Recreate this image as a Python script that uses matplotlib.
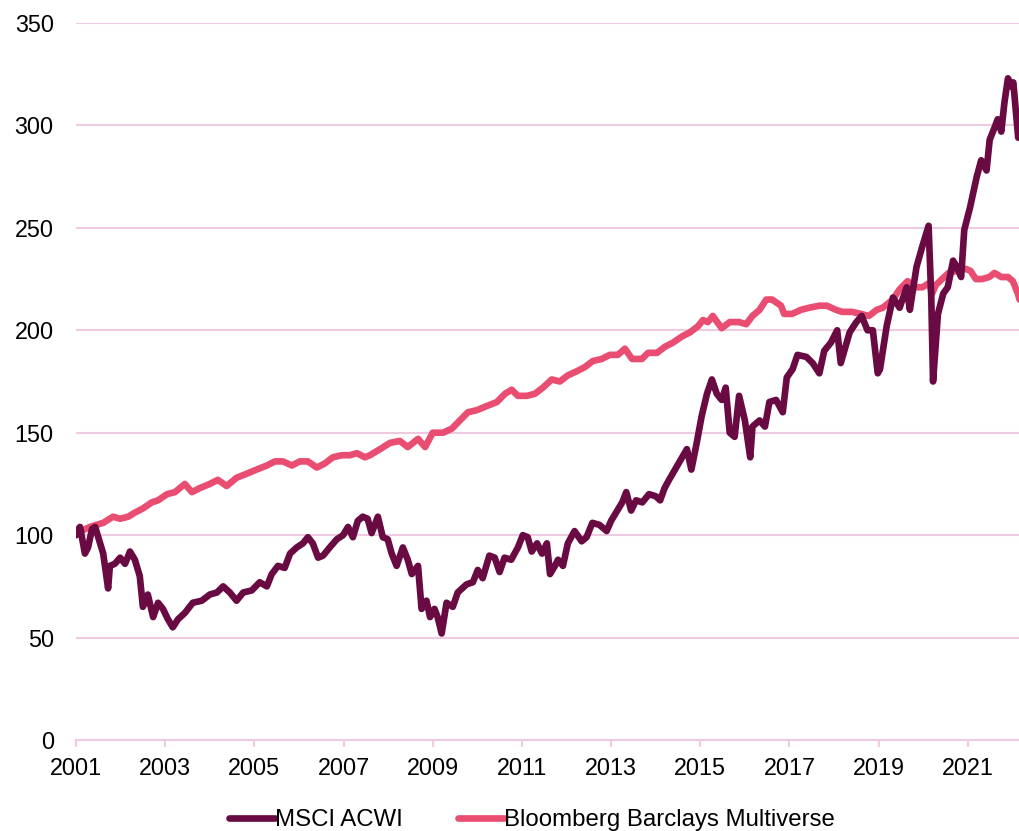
import matplotlib
matplotlib.use("Agg")
import matplotlib.pyplot as plt

plt.rcParams['font.family'] = ['Liberation Sans', 'DejaVu Sans']

# ---------------- data ----------------
acwi_t = [2001.00, 2001.02, 2001.09, 2001.20, 2001.27, 2001.36, 2001.43, 2001.50, 2001.61, 2001.72,
          2001.76, 2001.87, 2001.99, 2002.10, 2002.21, 2002.32, 2002.43, 2002.50, 2002.61, 2002.73,
          2002.84, 2002.95, 2003.06, 2003.17, 2003.29, 2003.44, 2003.62, 2003.82, 2004.00, 2004.16,
          2004.30, 2004.45, 2004.60, 2004.75, 2004.94, 2005.12, 2005.28, 2005.39, 2005.53, 2005.68,
          2005.80, 2005.95, 2006.09, 2006.20, 2006.31, 2006.43, 2006.54, 2006.69, 2006.85, 2006.99,
          2007.10, 2007.21, 2007.32, 2007.43, 2007.54, 2007.63, 2007.77, 2007.88, 2007.99, 2008.08,
          2008.19, 2008.33, 2008.44, 2008.53, 2008.67, 2008.75, 2008.86, 2008.94, 2009.04, 2009.11,
          2009.20, 2009.31, 2009.45, 2009.56, 2009.76, 2009.90, 2010.01, 2010.12, 2010.27, 2010.39,
          2010.50, 2010.61, 2010.76, 2010.91, 2011.02, 2011.13, 2011.22, 2011.34, 2011.45, 2011.56,
          2011.63, 2011.74, 2011.81, 2011.92, 2012.03, 2012.18, 2012.34, 2012.45, 2012.58, 2012.74,
          2012.90, 2013.00, 2013.14, 2013.25, 2013.34, 2013.45, 2013.56, 2013.70, 2013.85, 2014.00,
          2014.10, 2014.20, 2014.30, 2014.54, 2014.70, 2014.80, 2014.92, 2015.03, 2015.15, 2015.26,
          2015.37, 2015.48, 2015.57, 2015.66, 2015.77, 2015.87, 2016.00, 2016.12, 2016.17, 2016.33,
          2016.45, 2016.55, 2016.70, 2016.85, 2016.94, 2017.07, 2017.18, 2017.38, 2017.52, 2017.67,
          2017.78, 2017.93, 2018.07, 2018.15, 2018.35, 2018.50, 2018.62, 2018.75, 2018.87, 2018.98,
          2019.03, 2019.18, 2019.32, 2019.47, 2019.63, 2019.70, 2019.85, 2019.98, 2020.12, 2020.18,
          2020.22, 2020.33, 2020.45, 2020.55, 2020.67, 2020.75, 2020.85, 2020.92, 2021.05, 2021.20,
          2021.30, 2021.42, 2021.49, 2021.60, 2021.67, 2021.75, 2021.82, 2021.90, 2021.98, 2022.02,
          2022.08, 2022.13]
acwi_v = [100, 102, 104, 91, 94, 103, 104, 99, 91, 74,
          85, 86, 89, 86, 92, 88, 80, 65, 71, 60,
          67, 64, 59, 55, 59, 62, 67, 68, 71, 72,
          75, 72, 68, 72, 73, 77, 75, 81, 85, 84,
          91, 94, 96, 99, 96, 89, 90, 94, 98, 100,
          104, 99, 107, 109, 108, 101, 109, 99, 98, 91,
          85, 94, 88, 81, 85, 64, 68, 60, 64, 60,
          52, 67, 65, 72, 76, 77, 83, 79, 90, 89,
          82, 89, 88, 94, 100, 99, 92, 96, 91, 96,
          81, 85, 88, 85, 96, 102, 97, 99, 106, 105,
          102, 107, 112, 116, 121, 112, 117, 116, 120, 119,
          117, 123, 127, 136, 142, 132, 145, 158, 169, 176,
          169, 166, 172, 150, 148, 168, 156, 138, 153, 156,
          153, 165, 166, 160, 177, 181, 188, 187, 184, 179,
          190, 194, 200, 184, 199, 204, 207, 200, 200, 179,
          181, 202, 216, 211, 221, 210, 231, 241, 251, 216,
          175, 208, 218, 221, 234, 231, 226, 249, 260, 275,
          283, 278, 293, 299, 303, 297, 311, 323, 319, 321,
          306, 294]

bond_t = [2001.00, 2001.02, 2001.31, 2001.61, 2001.83, 2001.99, 2002.17, 2002.32, 2002.50, 2002.70,
          2002.84, 2003.04, 2003.22, 2003.44, 2003.60, 2003.78, 2004.00, 2004.18, 2004.38, 2004.60,
          2004.83, 2005.05, 2005.28, 2005.46, 2005.64, 2005.84, 2006.02, 2006.20, 2006.40, 2006.58,
          2006.76, 2006.96, 2007.14, 2007.30, 2007.48, 2007.59, 2007.82, 2008.04, 2008.26, 2008.44,
          2008.67, 2008.83, 2009.00, 2009.23, 2009.43, 2009.61, 2009.79, 2009.99, 2010.21, 2010.44,
          2010.62, 2010.77, 2010.91, 2011.11, 2011.29, 2011.47, 2011.67, 2011.85, 2012.03, 2012.23,
          2012.41, 2012.59, 2012.79, 2012.97, 2013.15, 2013.31, 2013.47, 2013.69, 2013.83, 2014.03,
          2014.21, 2014.39, 2014.59, 2014.77, 2014.95, 2015.06, 2015.17, 2015.28, 2015.48, 2015.66,
          2015.87, 2016.03, 2016.17, 2016.33, 2016.48, 2016.61, 2016.81, 2016.88, 2017.06, 2017.26,
          2017.44, 2017.67, 2017.84, 2018.04, 2018.18, 2018.40, 2018.60, 2018.78, 2018.96, 2019.09,
          2019.32, 2019.47, 2019.65, 2019.81, 2019.98, 2020.13, 2020.20, 2020.28, 2020.42, 2020.57,
          2020.75, 2020.95, 2021.06, 2021.18, 2021.32, 2021.48, 2021.60, 2021.75, 2021.90, 2022.01,
          2022.12, 2022.16]
bond_v = [100, 101, 104, 106, 109, 108, 109, 111, 113, 116,
          117, 120, 121, 125, 121, 123, 125, 127, 124, 128,
          130, 132, 134, 136, 136, 134, 136, 136, 133, 135,
          138, 139, 139, 140, 138, 139, 142, 145, 146, 143,
          147, 143, 150, 150, 152, 156, 160, 161, 163, 165,
          169, 171, 168, 168, 169, 172, 176, 175, 178, 180,
          182, 185, 186, 188, 188, 191, 186, 186, 189, 189,
          192, 194, 197, 199, 202, 205, 204, 207, 201, 204,
          204, 203, 207, 210, 215, 215, 212, 208, 208, 210,
          211, 212, 212, 210, 209, 209, 208, 207, 210, 211,
          215, 220, 224, 221, 221, 223, 218, 222, 225, 228,
          229, 230, 229, 225, 225, 226, 228, 226, 226, 224,
          218, 215]

series_names = ["MSCI ACWI", "Bloomberg Barclays Multiverse"]
x_tick_years = [2001, 2003, 2005, 2007, 2009, 2011, 2013, 2015, 2017, 2019, 2021]
y_ticks = [0, 50, 100, 150, 200, 250, 300, 350]

# ---------------- figure ----------------
W, H = 1020, 831
fig = plt.figure(figsize=(W / 100, H / 100), dpi=100)
ax = fig.add_axes([76 / W, (H - 740) / H, (1020 - 76) / W, (740 - 23) / H])

c_acwi = "#690A42"
c_bond = "#EA4D72"
c_grid = "#EECBE3"

ax.plot(bond_t, bond_v, color=c_bond, lw=4.8, solid_joinstyle="round",
        solid_capstyle="round", label=series_names[1], zorder=3)
ax.plot(acwi_t, acwi_v, color=c_acwi, lw=4.8, solid_joinstyle="round",
        solid_capstyle="round", label=series_names[0], zorder=4)

ax.set_xlim(2001, 2022.17)
ax.set_ylim(0, 350)
ax.set_yticks(y_ticks)
ax.set_xticks(x_tick_years)
ax.set_xticklabels([str(y) for y in x_tick_years])

ax.yaxis.grid(True, color=c_grid, lw=1.5)
ax.set_axisbelow(True)
for s in ["top", "right", "left"]:
    ax.spines[s].set_visible(False)
ax.spines["bottom"].set_color(c_grid)
ax.spines["bottom"].set_linewidth(1.5)

ax.tick_params(axis="y", length=0, pad=16, labelsize=16.8, labelcolor="black")
ax.tick_params(axis="x", length=5, width=1.5, color=c_grid, pad=7, labelsize=16.8,
               labelcolor="black")

h, l = ax.get_legend_handles_labels()
order = [1, 0]
leg = fig.legend([h[i] for i in order], [l[i] for i in order], loc="center",
                 bbox_to_anchor=(532 / W, (H - 820) / H), ncol=2, frameon=False,
                 fontsize=17.3, handlelength=1.9, handletextpad=0.02, columnspacing=2.3)

fig.savefig("out.png", dpi=100)
